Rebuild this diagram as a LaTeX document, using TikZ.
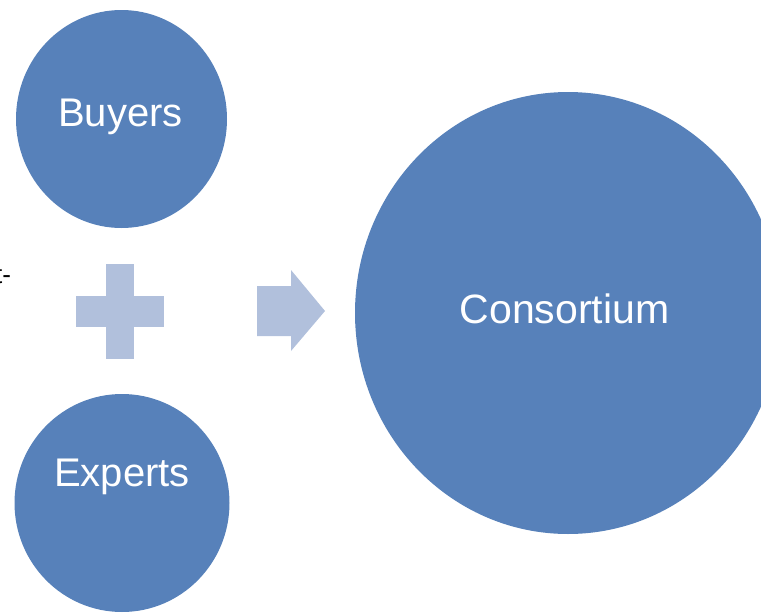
\documentclass[tikz,border=0pt]{standalone}
\usepackage{fontspec}
\setmainfont{Liberation Sans}
\usetikzlibrary{shapes.geometric}
\definecolor{blobblue}{HTML}{5781BA}
\definecolor{paleblue}{HTML}{B1C0DC}
\tikzset{
  blob/.style={ellipse, fill=blobblue, draw=none, inner sep=0pt},
  lbl/.style={text=white, anchor=base, font=\fontsize{40}{44}\selectfont, inner sep=0pt},
  pale/.style={fill=paleblue, draw=none}
}
\begin{document}
\begin{tikzpicture}[x=1pt,y=-1pt]
\useasboundingbox (0,0) rectangle (761,613);
\node[blob, minimum width=211pt, minimum height=218pt] (buyers) at (121.5,119) {};
\node[blob, minimum width=215pt, minimum height=218pt] (experts) at (122,503) {};
\node[blob, minimum width=426pt, minimum height=442pt] (consortium) at (568,313) {};
\node[lbl] (buyersT) at (120.5,126) {Buyers};
\node[lbl] (expertsT) at (122,486) {Experts};
\node[lbl, font=\fontsize{41}{46}\selectfont] (consT) at (564.5,323) {Consortium};
% plus sign
\path[pale] (106,264) rectangle (134,359);
\path[pale] (76,296) rectangle (164,327);
% arrow
\path[pale] (257,286) -- (291,286) -- (291,270) -- (325,311) -- (291,351) -- (291,336) -- (257,336) -- cycle;
% clipped text fragment
\node[anchor=base west, inner sep=0pt, font=\fontsize{26}{30}\selectfont] (frag) at (-5,283) {t-};
\end{tikzpicture}
\end{document}
